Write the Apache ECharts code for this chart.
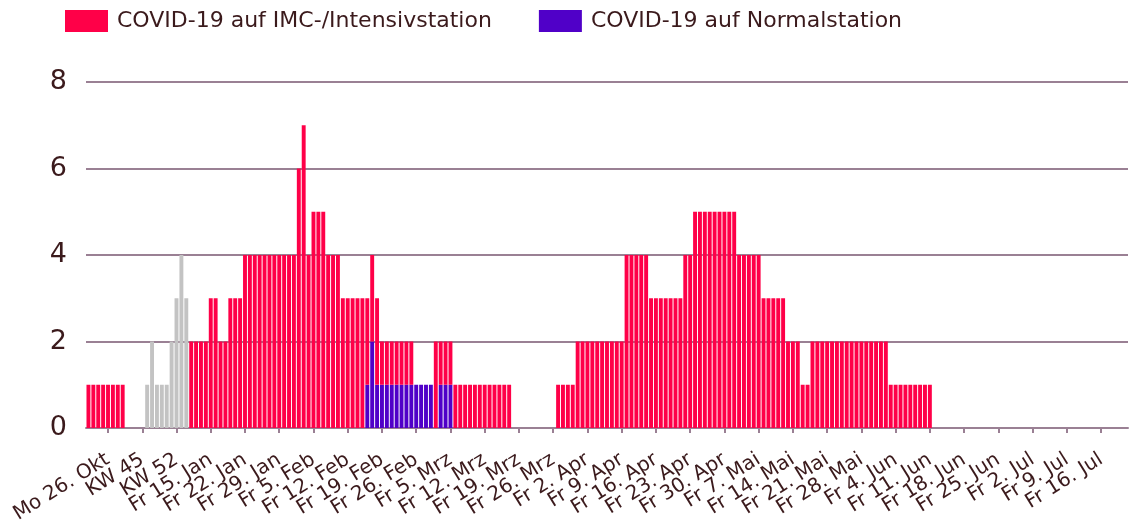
<!DOCTYPE html>
<html>
<head>
<meta charset="utf-8">
<script src="https://cdn.jsdelivr.net/npm/echarts@6/dist/echarts.min.js"></script>
<style>
html,body{margin:0;padding:0;background:#fff;}
#chart{width:1135px;height:521px;}
</style>
</head>
<body>
<div id="chart"></div>
<script>
// Tick labels, shown every 7th day starting at day index 4
const tickLabels = ['Mo 26. Okt','KW 45','KW 52','Fr 15. Jan','Fr 22. Jan','Fr 29. Jan','Fr 5. Feb','Fr 12. Feb','Fr 19. Feb','Fr 26. Feb','Fr 5. Mrz','Fr 12. Mrz','Fr 19. Mrz','Fr 26. Mrz','Fr 2. Apr','Fr 9. Apr','Fr 16. Apr','Fr 23. Apr','Fr 30. Apr','Fr 7. Mai','Fr 14. Mai','Fr 21. Mai','Fr 28. Mai','Fr 4. Jun','Fr 11. Jun','Fr 18. Jun','Fr 25. Jun','Fr 2. Jul','Fr 9. Jul','Fr 16. Jul'];

// COVID-19 auf IMC-/Intensivstation (per day slot)
const imcValues = [
1,1,1,1,1,1,1, 1,0,0,0,0,0,0, 0,0,0,0,0,0,0, 2,2,2,2,3,3,2,
2,3,3,3,4,4,4, 4,4,4,4,4,4,4, 4,6,7,4,5,5,5, 4,4,4,3,3,3,3,
3,2,2,2,1,1,1, 1,1,1,1,0,0,0, 0,2,1,1,1,1,1, 1,1,1,1,1,1,1,
1,1,1,0,0,0,0, 0,0,0,0,0,1,1, 1,1,2,2,2,2,2, 2,2,2,2,2,4,4,
4,4,4,3,3,3,3, 3,3,3,4,4,5,5, 5,5,5,5,5,5,5, 4,4,4,4,4,3,3,
3,3,3,2,2,2,1, 1,2,2,2,2,2,2, 2,2,2,2,2,2,2, 2,2,2,1,1,1,1,
1,1,1,1,1,0,0, 0,0,0,0,0,0,0, 0,0,0,0,0,0,0, 0,0,0,0,0,0,0,
0,0,0,0,0,0,0, 0,0,0,0,0,0,0, 0,0,0
];

// COVID-19 auf Normalstation
const normalValues = [
0,0,0,0,0,0,0, 0,0,0,0,0,0,0, 0,0,0,0,0,0,0, 0,0,0,0,0,0,0,
0,0,0,0,0,0,0, 0,0,0,0,0,0,0, 0,0,0,0,0,0,0, 0,0,0,0,0,0,0,
0,1,2,1,1,1,1, 1,1,1,1,1,1,1, 1,0,1,1,1,0,0, 0,0,0,0,0,0,0,
0,0,0,0,0,0,0, 0,0,0,0,0,0,0, 0,0,0,0,0,0,0, 0,0,0,0,0,0,0,
0,0,0,0,0,0,0, 0,0,0,0,0,0,0, 0,0,0,0,0,0,0, 0,0,0,0,0,0,0,
0,0,0,0,0,0,0, 0,0,0,0,0,0,0, 0,0,0,0,0,0,0, 0,0,0,0,0,0,0,
0,0,0,0,0,0,0, 0,0,0,0,0,0,0, 0,0,0,0,0,0,0, 0,0,0,0,0,0,0,
0,0,0,0,0,0,0, 0,0,0,0,0,0,0, 0,0,0
];

// Weekly aggregated values (grey, KW section)
const weeklyValues = [
0,0,0,0,0,0,0, 0,0,0,0,0,1,2, 1,1,1,2,3,4,3
];

const RED = '#ff0048', BLUE = '#5000c8', GREY = '#c3c3c3';
const TXT = '#3b1a1c', GRID = '#9a8094';
const FONT = 'DejaVu Sans, Verdana, sans-serif';

const nSlots = imcValues.length;
const categories = [];
for (let i = 0; i < nSlots; i++) {
  const k = (i - 4) / 7;
  categories.push(Number.isInteger(k) && k >= 0 && k < tickLabels.length ? tickLabels[k] : 'slot' + i);
}
const isTick = (i) => i >= 4 && (i - 4) % 7 === 0;
const isEvenTick = (i) => isTick(i) && ((i - 4) / 7) % 2 === 0;
const isOddTick = (i) => isTick(i) && ((i - 4) / 7) % 2 === 1;

const labelStyle = {
  showMinLabel: true, showMaxLabel: true, hideOverlap: false,
  rotate: 32, margin: 30,
  fontSize: 20, color: TXT, fontFamily: FONT
};

const chart = echarts.init(document.getElementById('chart'), null, {renderer: 'canvas'});
chart.setOption({
  animation: false,
  textStyle: {fontFamily: FONT},
  legend: {
    left: 65, top: 10, padding: 0,
    itemWidth: 43, itemHeight: 22, itemGap: 47,
    icon: 'rect',
    data: ['COVID-19 auf IMC-/Intensivstation', 'COVID-19 auf Normalstation'],
    textStyle: {fontSize: 22, color: TXT, fontFamily: FONT, padding: [0, 0, 0, 4]}
  },
  grid: {left: 86, right: 7, top: 82, bottom: 93, containLabel: false, outerBoundsMode: 'none'},
  xAxis: [{
    type: 'category',
    position: 'bottom',
    data: categories,
    boundaryGap: true,
    axisLine: {lineStyle: {color: GRID, width: 2}},
    axisTick: {show: true, alignWithLabel: true, interval: (i) => isTick(i), length: 5, lineStyle: {color: GRID, width: 2}},
    axisLabel: Object.assign({interval: (i) => isEvenTick(i)}, labelStyle)
  }, {
    type: 'category',
    position: 'bottom',
    data: categories,
    boundaryGap: true,
    axisLine: {show: false},
    axisTick: {show: false},
    splitLine: {show: false},
    axisLabel: Object.assign({interval: (i) => isOddTick(i)}, labelStyle)
  }],
  yAxis: {
    type: 'value', min: 0, max: 8, interval: 2,
    axisLine: {show: false}, axisTick: {show: false},
    splitLine: {lineStyle: {color: GRID, width: 2}},
    axisLabel: {fontSize: 27, color: TXT, margin: 19, fontFamily: FONT}
  },
  series: [
    {name: 'COVID-19 auf Normalstation', type: 'bar', stack: 'a', data: normalValues,
     itemStyle: {color: BLUE}, barCategoryGap: '20%'},
    {name: 'COVID-19 auf IMC-/Intensivstation', type: 'bar', stack: 'a', data: imcValues,
     itemStyle: {color: RED}, barCategoryGap: '20%'},
    {name: 'KW', type: 'bar', stack: 'a', data: weeklyValues,
     itemStyle: {color: GREY}, barCategoryGap: '20%'}
  ]
});
</script>
</body>
</html>
